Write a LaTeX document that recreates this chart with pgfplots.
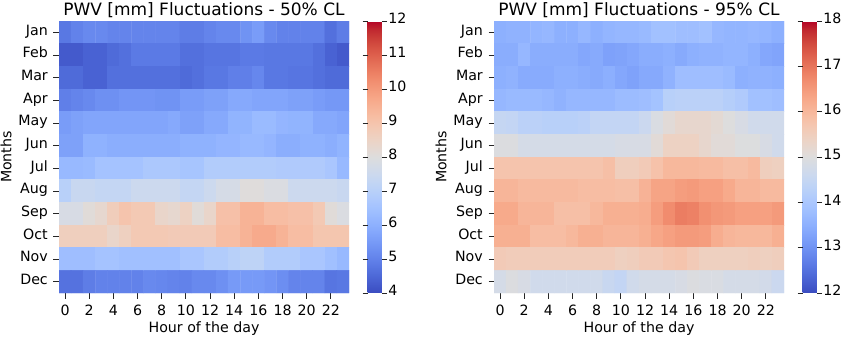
\documentclass[border=0pt]{standalone}
\usepackage{fontspec}
\setmainfont{DejaVu Sans}
\usepackage{pgfplots}
\pgfplotsset{compat=1.18}
\newcommand\tickfont{\fontsize{14.2pt}{16pt}\selectfont}
\newcommand\titlefont{\fontsize{17pt}{20pt}\selectfont}
% matplotlib coolwarm, 33 stops
\pgfplotsset{colormap={coolwarm}{
rgb255=(59,76,192) rgb255=(68,90,204) rgb255=(77,104,215) rgb255=(87,117,225)
rgb255=(98,130,234) rgb255=(108,142,241) rgb255=(119,154,247) rgb255=(130,165,251)
rgb255=(141,176,254) rgb255=(152,185,255) rgb255=(163,194,255) rgb255=(174,201,253)
rgb255=(184,208,249) rgb255=(194,213,244) rgb255=(204,217,238) rgb255=(213,219,230)
rgb255=(221,221,221) rgb255=(229,216,209) rgb255=(236,211,197) rgb255=(241,204,185)
rgb255=(245,196,173) rgb255=(247,187,160) rgb255=(247,177,148) rgb255=(247,166,135)
rgb255=(244,154,123) rgb255=(241,141,111) rgb255=(236,127,99) rgb255=(229,112,88)
rgb255=(222,96,77) rgb255=(213,80,66) rgb255=(203,62,56) rgb255=(192,40,47)
rgb255=(180,4,38)}}
\pgfplotsset{heat/.style={
  width=290pt, height=272pt, scale only axis, anchor=north west,
  xmin=-0.5, xmax=23.5, ymin=-0.5, ymax=11.5, y dir=reverse,
  enlargelimits=false,
  xtick={0,2,...,22}, ytick={0,...,11},
  yticklabels={Jan,Feb,Mar,Apr,May,Jun,Jul,Aug,Sep,Oct,Nov,Dec},
  tick align=outside, xtick pos=bottom, ytick pos=left,
  major tick length=5.5pt,
  tick style={black!85, line width=0.9pt},
  axis line style={draw=none},
  /pgf/number format/assume math mode=true,
  tick label style={font=\tickfont},
  xticklabel style={anchor=base, yshift=-16.5pt},
  yticklabel style={anchor=mid east, inner sep=0pt, xshift=-5.5pt},
  title style={font=\titlefont, at={(0.5,1)}, anchor=base, yshift=0pt},
  xlabel style={font=\tickfont, at={(axis description cs:0.5,0)}, anchor=base, yshift=-39.5pt},
  ylabel style={font=\tickfont, at={(axis description cs:0,0.5)}, anchor=center, yshift=53pt},
  xlabel={Hour of the day}, ylabel={Months},
  colormap name=coolwarm,
  colorbar,
  colorbar style={
    scale only axis, width=14.7pt,
    at={(parent axis.north east)}, anchor=north west, xshift=10pt,
    axis line style={draw=none},
    tick align=outside, major tick length=5pt,
    tick style={black!85, line width=0.9pt},
    /pgf/number format/assume math mode=true,
    yticklabel style={font=\tickfont, anchor=mid west, inner sep=0pt, xshift=1pt},
  },
}}
\begin{document}
\begin{tikzpicture}
\useasboundingbox (0,0) rectangle (843pt,-337pt);
\begin{axis}[heat, at={(59pt,-21pt)},
  title={PWV [mm] Fluctuations - 50\% CL},
  point meta min=4, point meta max=12,
  colorbar style={ytick={4,...,12}}]
\addplot[matrix plot*, mesh/cols=24, point meta=explicit] coordinates {
(0,0)[4.8] (1,0)[5.0] (2,0)[5.15] (3,0)[5.15] (4,0)[5.05] (5,0)[5.05] (6,0)[5.05] (7,0)[5.05] (8,0)[5.05] (9,0)[5.05] (10,0)[4.9] (11,0)[4.9] (12,0)[5.05] (13,0)[5.15] (14,0)[5.15] (15,0)[5.35] (16,0)[5.55] (17,0)[5.15] (18,0)[5.0] (19,0)[5.0] (20,0)[5.0] (21,0)[5.0] (22,0)[4.65] (23,0)[4.9]
(0,1)[4.25] (1,1)[4.25] (2,1)[4.4] (3,1)[4.4] (4,1)[4.55] (5,1)[4.65] (6,1)[4.85] (7,1)[4.85] (8,1)[4.85] (9,1)[4.85] (10,1)[4.65] (11,1)[4.65] (12,1)[4.75] (13,1)[4.75] (14,1)[4.75] (15,1)[4.85] (16,1)[4.85] (17,1)[4.8] (18,1)[4.8] (19,1)[4.8] (20,1)[4.8] (21,1)[4.65] (22,1)[4.4] (23,1)[4.25]
(0,2)[4.55] (1,2)[4.55] (2,2)[4.4] (3,2)[4.4] (4,2)[4.65] (5,2)[4.65] (6,2)[4.65] (7,2)[4.65] (8,2)[4.65] (9,2)[4.65] (10,2)[4.55] (11,2)[4.65] (12,2)[4.8] (13,2)[4.8] (14,2)[4.95] (15,2)[4.95] (16,2)[5.1] (17,2)[4.8] (18,2)[4.8] (19,2)[4.75] (20,2)[4.75] (21,2)[4.65] (22,2)[4.55] (23,2)[4.55]
(0,3)[4.95] (1,3)[5.05] (2,3)[5.15] (3,3)[5.3] (4,3)[5.3] (5,3)[5.4] (6,3)[5.4] (7,3)[5.4] (8,3)[5.35] (9,3)[5.35] (10,3)[5.55] (11,3)[5.55] (12,3)[5.65] (13,3)[5.65] (14,3)[5.85] (15,3)[5.85] (16,3)[5.75] (17,3)[5.75] (18,3)[5.75] (19,3)[5.65] (20,3)[5.65] (21,3)[5.55] (22,3)[5.45] (23,3)[5.45]
(0,4)[5.55] (1,4)[5.65] (2,4)[5.75] (3,4)[5.75] (4,4)[5.75] (5,4)[5.75] (6,4)[5.75] (7,4)[5.75] (8,4)[5.75] (9,4)[5.85] (10,4)[5.65] (11,4)[5.65] (12,4)[5.85] (13,4)[5.85] (14,4)[6.1] (15,4)[6.1] (16,4)[6.3] (17,4)[6.3] (18,4)[6.15] (19,4)[6.1] (20,4)[6.1] (21,4)[5.85] (22,4)[5.85] (23,4)[5.75]
(0,5)[5.65] (1,5)[5.65] (2,5)[6.05] (3,5)[6.05] (4,5)[5.95] (5,5)[5.95] (6,5)[5.95] (7,5)[5.95] (8,5)[5.95] (9,5)[5.95] (10,5)[6.05] (11,5)[6.05] (12,5)[6.05] (13,5)[6.15] (14,5)[6.15] (15,5)[6.25] (16,5)[6.25] (17,5)[6.15] (18,5)[5.95] (19,5)[5.95] (20,5)[6.05] (21,5)[6.05] (22,5)[5.95] (23,5)[6.1]
(0,6)[6.25] (1,6)[6.25] (2,6)[6.3] (3,6)[6.55] (4,6)[6.55] (5,6)[6.55] (6,6)[6.55] (7,6)[6.7] (8,6)[6.7] (9,6)[6.7] (10,6)[6.6] (11,6)[6.6] (12,6)[6.85] (13,6)[6.85] (14,6)[6.85] (15,6)[6.85] (16,6)[6.85] (17,6)[6.85] (18,6)[6.8] (19,6)[6.8] (20,6)[6.8] (21,6)[6.8] (22,6)[6.65] (23,6)[6.25]
(0,7)[7.0] (1,7)[7.4] (2,7)[7.4] (3,7)[7.3] (4,7)[7.3] (5,7)[7.3] (6,7)[7.5] (7,7)[7.5] (8,7)[7.5] (9,7)[7.5] (10,7)[7.3] (11,7)[7.3] (12,7)[7.5] (13,7)[7.75] (14,7)[7.75] (15,7)[8.05] (16,7)[8.05] (17,7)[7.9] (18,7)[7.9] (19,7)[7.5] (20,7)[7.5] (21,7)[7.5] (22,7)[7.5] (23,7)[7.4]
(0,8)[7.8] (1,8)[7.8] (2,8)[8.1] (3,8)[8.3] (4,8)[8.7] (5,8)[9.0] (6,8)[8.85] (7,8)[8.85] (8,8)[8.4] (9,8)[8.3] (10,8)[8.55] (11,8)[8.1] (12,8)[8.4] (13,8)[9.1] (14,8)[9.1] (15,8)[9.45] (16,8)[9.45] (17,8)[9.2] (18,8)[9.2] (19,8)[9.1] (20,8)[9.1] (21,8)[8.85] (22,8)[8.1] (23,8)[7.9]
(0,9)[8.65] (1,9)[8.65] (2,9)[8.65] (3,9)[8.65] (4,9)[8.4] (5,9)[8.6] (6,9)[8.85] (7,9)[8.85] (8,9)[8.85] (9,9)[8.8] (10,9)[8.8] (11,9)[8.8] (12,9)[8.8] (13,9)[9.2] (14,9)[9.2] (15,9)[9.45] (16,9)[9.65] (17,9)[9.65] (18,9)[9.45] (19,9)[9.2] (20,9)[9.2] (21,9)[8.95] (22,9)[8.95] (23,9)[8.95]
(0,10)[6.4] (1,10)[6.4] (2,10)[6.4] (3,10)[6.55] (4,10)[6.55] (5,10)[6.45] (6,10)[6.45] (7,10)[6.45] (8,10)[6.45] (9,10)[6.45] (10,10)[6.65] (11,10)[6.65] (12,10)[6.85] (13,10)[6.85] (14,10)[7.0] (15,10)[7.15] (16,10)[7.15] (17,10)[6.85] (18,10)[6.85] (19,10)[6.85] (20,10)[6.65] (21,10)[6.65] (22,10)[6.45] (23,10)[6.25]
(0,11)[4.7] (1,11)[4.7] (2,11)[4.9] (3,11)[5.0] (4,11)[5.0] (5,11)[5.0] (6,11)[5.0] (7,11)[5.15] (8,11)[5.1] (9,11)[5.05] (10,11)[5.0] (11,11)[5.15] (12,11)[5.15] (13,11)[5.3] (14,11)[5.5] (15,11)[5.5] (16,11)[5.5] (17,11)[5.4] (18,11)[5.25] (19,11)[5.05] (20,11)[5.05] (21,11)[5.05] (22,11)[4.75] (23,11)[4.8]
};
\end{axis}
\begin{axis}[heat, at={(494pt,-21pt)},
  title={PWV [mm] Fluctuations - 95\% CL},
  point meta min=12, point meta max=18,
  colorbar style={ytick={12,...,18}}]
\addplot[matrix plot*, mesh/cols=24, point meta=explicit] coordinates {
(0,0)[13.5] (1,0)[13.55] (2,0)[13.55] (3,0)[13.6] (4,0)[13.65] (5,0)[13.5] (6,0)[13.5] (7,0)[13.65] (8,0)[13.5] (9,0)[13.6] (10,0)[13.65] (11,0)[13.65] (12,0)[13.7] (13,0)[13.85] (14,0)[13.85] (15,0)[13.8] (16,0)[13.8] (17,0)[13.85] (18,0)[13.65] (19,0)[13.6] (20,0)[13.6] (21,0)[13.65] (22,0)[13.6] (23,0)[13.5]
(0,1)[13.45] (1,1)[13.45] (2,1)[13.65] (3,1)[13.45] (4,1)[13.45] (5,1)[13.45] (6,1)[13.45] (7,1)[13.35] (8,1)[13.4] (9,1)[13.25] (10,1)[13.28] (11,1)[13.35] (12,1)[13.45] (13,1)[13.45] (14,1)[13.5] (15,1)[13.4] (16,1)[13.5] (17,1)[13.55] (18,1)[13.55] (19,1)[13.6] (20,1)[13.6] (21,1)[13.5] (22,1)[13.35] (23,1)[13.3]
(0,2)[13.5] (1,2)[13.55] (2,2)[13.42] (3,2)[13.42] (4,2)[13.42] (5,2)[13.5] (6,2)[13.5] (7,2)[13.45] (8,2)[13.4] (9,2)[13.48] (10,2)[13.35] (11,2)[13.27] (12,2)[13.38] (13,2)[13.38] (14,2)[13.55] (15,2)[13.8] (16,2)[13.8] (17,2)[13.8] (18,2)[13.8] (19,2)[13.72] (20,2)[13.5] (21,2)[13.55] (22,2)[13.55] (23,2)[13.5]
(0,3)[13.65] (1,3)[13.7] (2,3)[13.7] (3,3)[13.7] (4,3)[13.65] (5,3)[13.55] (6,3)[13.65] (7,3)[13.65] (8,3)[13.65] (9,3)[13.65] (10,3)[13.75] (11,3)[13.75] (12,3)[13.8] (13,3)[13.9] (14,3)[14.25] (15,3)[14.3] (16,3)[14.3] (17,3)[14.3] (18,3)[14.3] (19,3)[14.2] (20,3)[14.1] (21,3)[13.85] (22,3)[13.85] (23,3)[13.8]
(0,4)[14.5] (1,4)[14.45] (2,4)[14.3] (3,4)[14.3] (4,4)[14.25] (5,4)[14.25] (6,4)[14.25] (7,4)[14.3] (8,4)[14.45] (9,4)[14.45] (10,4)[14.45] (11,4)[14.45] (12,4)[14.6] (13,4)[14.9] (14,4)[15.1] (15,4)[15.25] (16,4)[15.25] (17,4)[15.25] (18,4)[15.15] (19,4)[15.0] (20,4)[14.85] (21,4)[14.7] (22,4)[14.7] (23,4)[14.7]
(0,5)[14.95] (1,5)[14.95] (2,5)[14.8] (3,5)[14.8] (4,5)[14.8] (5,5)[14.8] (6,5)[14.8] (7,5)[14.8] (8,5)[14.8] (9,5)[14.8] (10,5)[14.85] (11,5)[14.85] (12,5)[14.85] (13,5)[15.1] (14,5)[15.4] (15,5)[15.4] (16,5)[15.4] (17,5)[15.25] (18,5)[15.1] (19,5)[15.1] (20,5)[14.98] (21,5)[14.98] (22,5)[14.85] (23,5)[14.7]
(0,6)[15.75] (1,6)[15.75] (2,6)[15.75] (3,6)[15.75] (4,6)[15.75] (5,6)[15.75] (6,6)[15.75] (7,6)[15.75] (8,6)[15.75] (9,6)[15.85] (10,6)[15.5] (11,6)[15.5] (12,6)[15.6] (13,6)[15.8] (14,6)[16.0] (15,6)[16.0] (16,6)[16.0] (17,6)[15.95] (18,6)[15.95] (19,6)[15.85] (20,6)[15.85] (21,6)[15.95] (22,6)[15.5] (23,6)[15.45]
(0,7)[16.05] (1,7)[16.05] (2,7)[15.95] (3,7)[15.95] (4,7)[15.95] (5,7)[15.95] (6,7)[15.95] (7,7)[15.9] (8,7)[15.9] (9,7)[15.9] (10,7)[15.85] (11,7)[15.85] (12,7)[16.1] (13,7)[16.35] (14,7)[16.35] (15,7)[16.45] (16,7)[16.5] (17,7)[16.4] (18,7)[16.4] (19,7)[16.25] (20,7)[16.05] (21,7)[16.05] (22,7)[15.95] (23,7)[15.95]
(0,8)[16.25] (1,8)[16.25] (2,8)[16.05] (3,8)[16.05] (4,8)[16.05] (5,8)[15.85] (6,8)[15.85] (7,8)[15.85] (8,8)[16.0] (9,8)[16.15] (10,8)[16.15] (11,8)[16.15] (12,8)[16.2] (13,8)[16.45] (14,8)[16.7] (15,8)[16.9] (16,8)[16.85] (17,8)[16.65] (18,8)[16.55] (19,8)[16.5] (20,8)[16.4] (21,8)[16.4] (22,8)[16.4] (23,8)[16.5]
(0,9)[16.15] (1,9)[16.15] (2,9)[16.15] (3,9)[15.9] (4,9)[15.9] (5,9)[15.9] (6,9)[16.0] (7,9)[16.15] (8,9)[16.15] (9,9)[16.05] (10,9)[16.05] (11,9)[16.05] (12,9)[16.15] (13,9)[16.3] (14,9)[16.4] (15,9)[16.5] (16,9)[16.5] (17,9)[16.45] (18,9)[16.2] (19,9)[16.05] (20,9)[16.0] (21,9)[16.0] (22,9)[16.0] (23,9)[16.15]
(0,10)[15.6] (1,10)[15.55] (2,10)[15.55] (3,10)[15.55] (4,10)[15.55] (5,10)[15.55] (6,10)[15.55] (7,10)[15.55] (8,10)[15.55] (9,10)[15.55] (10,10)[15.45] (11,10)[15.5] (12,10)[15.6] (13,10)[15.6] (14,10)[15.7] (15,10)[15.75] (16,10)[15.6] (17,10)[15.45] (18,10)[15.45] (19,10)[15.45] (20,10)[15.45] (21,10)[15.5] (22,10)[15.45] (23,10)[15.5]
(0,11)[14.8] (1,11)[14.95] (2,11)[14.85] (3,11)[14.7] (4,11)[14.7] (5,11)[14.7] (6,11)[14.7] (7,11)[14.7] (8,11)[14.7] (9,11)[14.55] (10,11)[14.45] (11,11)[14.7] (12,11)[14.8] (13,11)[14.8] (14,11)[14.8] (15,11)[14.85] (16,11)[14.95] (17,11)[14.9] (18,11)[14.9] (19,11)[14.8] (20,11)[14.8] (21,11)[14.8] (22,11)[14.75] (23,11)[14.6]
};
\end{axis}
\end{tikzpicture}
\end{document}
